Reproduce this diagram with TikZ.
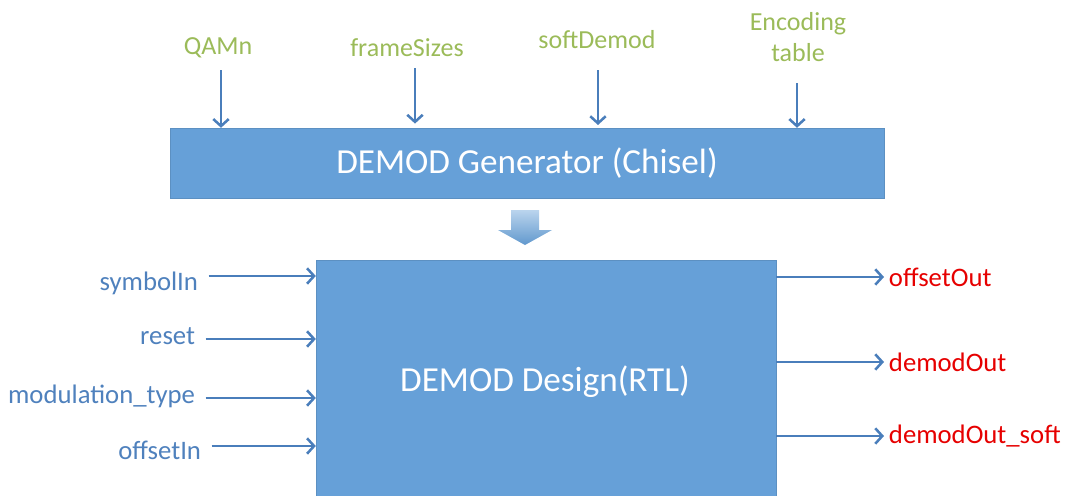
\documentclass[tikz,border=0pt]{standalone}
\usepackage{fontspec}
\setmainfont{Carlito}
\usepackage{tikz}
\usetikzlibrary{arrows.meta,positioning}

\definecolor{boxblue}{RGB}{102,160,216}
\definecolor{lineblue}{RGB}{74,126,187}
\definecolor{labelgreen}{RGB}{155,187,89}
\definecolor{labelblue}{RGB}{79,129,189}
\definecolor{labelred}{RGB}{230,0,0}

\begin{document}
\begin{tikzpicture}[x = 0.025cm, y = -0.025cm,
    block/.style = {fill = boxblue, draw = boxblue!90!black, line width = 0.3pt,
                    text = white, font = \fontsize{25}{29}\selectfont, inner sep = 0pt},
    param/.style = {text = labelgreen, font = \fontsize{18.5}{21}\selectfont, align = center},
    inport/.style = {text = labelblue, font = \fontsize{19}{21}\selectfont, anchor = east},
    outport/.style = {text = labelred, font = \fontsize{19}{21}\selectfont, anchor = west},
    wire/.style = {draw = lineblue, line width = 2.1pt,
                   -{Straight Barb[length = 5pt, width = 11pt, line width = 1.8pt]}}
  ]
    \useasboundingbox (0,0) rectangle (1068,495);

    % generator and design blocks
    \node[block, minimum width = 714*0.025cm, minimum height = 70*0.025cm] (gen) at (527,163)
      {DEMOD Generator (Chisel)};
    \node[block, minimum width = 460*0.025cm, minimum height = 260*0.025cm] (rtl) at (546,390) {};
    \node[text = white, font = \fontsize{25}{29}\selectfont] (rtlname) at (545,382) {DEMOD Design(RTL)};

    % generator parameters
    \node[param] (qam)   at (218,48) {QAMn};
    \node[param] (frame) at (407,48) {frameSizes};
    \node[param] (soft)  at (597,40) {softDemod};
    \node[param] (enc)   at (798,37) {Encoding\\[1pt]table};

    \coordinate (qamT)   at (221,70);
    \coordinate (frameT) at (415,68);
    \coordinate (softT)  at (598,70);
    \coordinate (encT)   at (797,83);

    \draw[wire] (qamT)   -- (qamT   |- gen.north);
    \draw[wire] (frameT) -- ([yshift = 3pt]frameT |- gen.north);
    \draw[wire] (softT)  -- ([yshift = 2pt]softT  |- gen.north);
    \draw[wire] (encT)   -- (encT   |- gen.north);

    % generator produces design
    \coordinate (gen2rtl) at (525,210);
    \shade[top color = boxblue!45!white, bottom color = boxblue!95!black]
      (gen2rtl) ++(-14,0) -- ++(28,0) -- ++(0,20) -- ++(13,0) -- ++(-27,15)
      -- ++(-27,-15) -- ++(13,0) -- cycle;

    % inputs
    \node[inport] (symIn)  at (203,283) {symbolIn};
    \node[inport] (rst)    at (200,336) {reset};
    \node[inport] (modTyp) at (200,396) {modulation\_type};
    \node[inport] (offIn)  at (206,450) {offsetIn};

    \draw[wire] ([xshift = 4pt]symIn.east |- 0,276)  -- (rtl.west |- 0,276);
    \draw[wire] ([xshift = 4pt]rst.east |- 0,339)    -- (rtl.west |- 0,339);
    \draw[wire] ([xshift = 4pt]modTyp.east |- 0,398) -- (rtl.west |- 0,398);
    \draw[wire] ([xshift = 4pt]offIn.east |- 0,446)  -- (rtl.west |- 0,446);

    % outputs
    \node[outport] (offOut)  at (884,277) {offsetOut};
    \node[outport] (dmOut)   at (884,362) {demodOut};
    \node[outport] (dmSoft)  at (884,436) {demodOut\_soft};

    \draw[wire] (rtl.east |- offOut.west) -- (offOut.west);
    \draw[wire] (rtl.east |- dmOut.west)  -- (dmOut.west);
    \draw[wire] (rtl.east |- dmSoft.west) -- (dmSoft.west);

  \end{tikzpicture}
\end{document}
